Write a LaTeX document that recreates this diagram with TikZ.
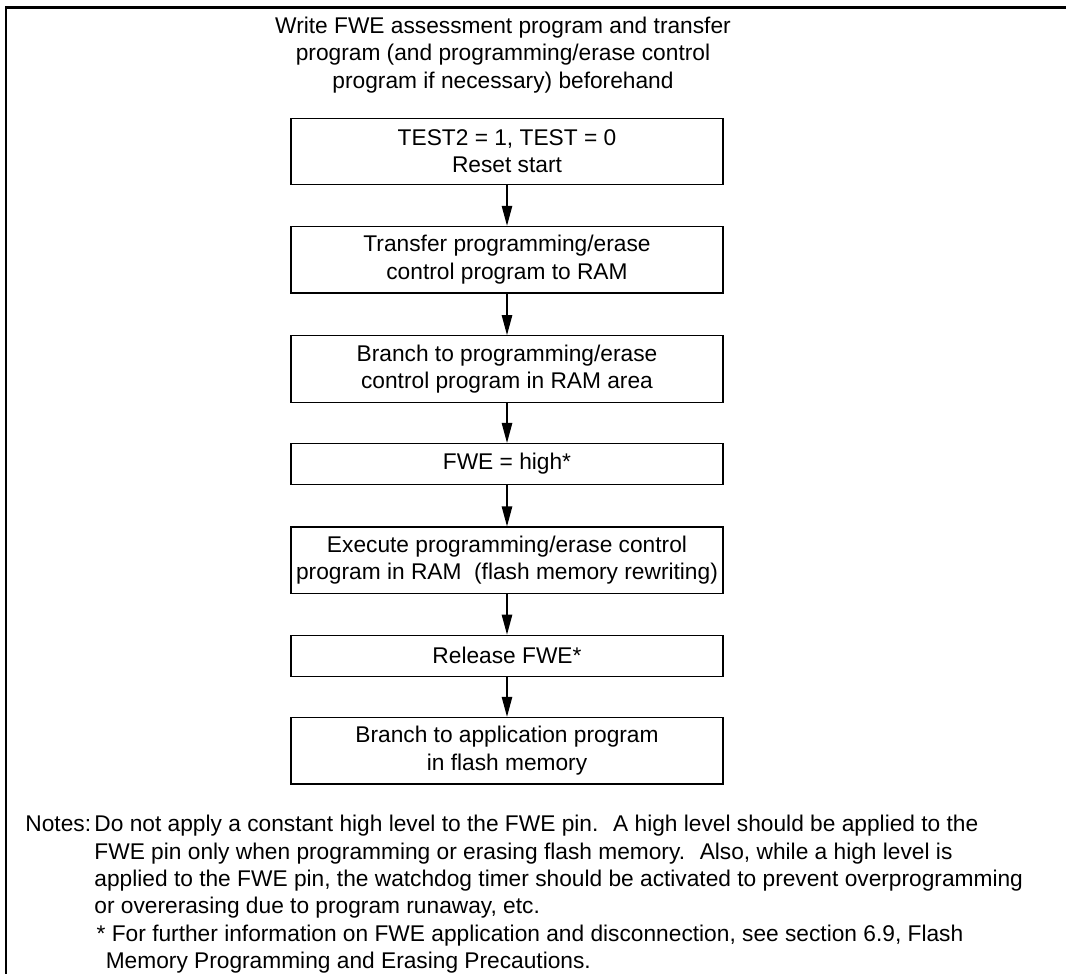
\documentclass[tikz,border=0pt]{standalone}
\usepackage{fontspec}
\setmainfont{Liberation Sans}
\usetikzlibrary{arrows.meta}

\tikzset{
  stepbox/.style={draw, line width=0.55pt, minimum width=190pt, inner sep=0pt, align=center},
  tallbox/.style={stepbox, minimum height=29.3pt},
  flatbox/.style={stepbox, minimum height=18pt},
  flow/.style={-{Triangle[length=8.8pt,width=4.6pt]}, line width=0.55pt},
}

\begin{document}
\begin{tikzpicture}[x=0.44pt, y=-0.44pt, font=\fontsize{10}{12}\selectfont]
      \useasboundingbox (0,0) rectangle (1066,974);
      \draw [line width=1pt] (1066,7.5) -- (6,7.5) -- (6,974);
      \node [align=center] (pre) at (503,55) {Write FWE assessment program and transfer\\program (and programming/erase control\\program if necessary) beforehand};
      \node [tallbox] (reset) at (507,151.5) {TEST2 = 1, TEST = 0\\Reset start};
      \node [tallbox] (xfer) at (507,259.7) {Transfer programming/erase\\control program to RAM};
      \node [tallbox] (toram) at (507,369) {Branch to programming/erase\\control program in RAM area};
      \node [flatbox] (fwehigh) at (507,464) {FWE = high*};
      \node [tallbox] (exec) at (507,560.3) {Execute programming/erase control\\program in RAM~ (flash memory rewriting)};
      \node [flatbox] (fwerel) at (507,655.7) {Release FWE*};
      \node [tallbox] (toapp) at (507,750.7) {Branch to application program\\in flash memory};
      \draw [flow] (reset) -- (xfer);
      \draw [flow] (xfer) -- (toram);
      \draw [flow] (toram) -- (fwehigh);
      \draw [flow] (fwehigh) -- (exec);
      \draw [flow] (exec) -- (fwerel);
      \draw [flow] (fwerel) -- (toapp);
      \node [anchor=north west, inner sep=0pt, align=left] (notetext) at (94,815) {Do not apply a constant high level to the FWE pin.~ A high level should be applied to the\\FWE pin only when programming or erasing flash memory.~ Also, while a high level is\\applied to the FWE pin, the watchdog timer should be activated to prevent overprogramming\\or overerasing due to program runaway, etc.\\\hspace*{0.1em}* For further information on FWE application and disconnection, see section 6.9, Flash\\\hspace*{0.5em}Memory Programming and Erasing Precautions.};
      \node [anchor=north west, inner sep=0pt] (notes) at (25,815) {Notes:};
    \end{tikzpicture}
\end{document}
